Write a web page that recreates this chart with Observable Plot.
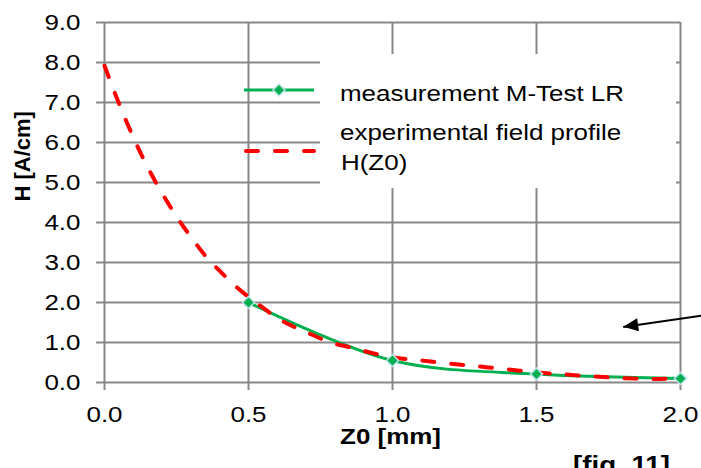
<!DOCTYPE html>
<html><head><meta charset="utf-8">
<script src="https://cdn.jsdelivr.net/npm/d3@7"></script>
<script src="https://cdn.jsdelivr.net/npm/@observablehq/plot@0.6"></script>
<style>
html,body{margin:0;padding:0;background:#fff;overflow:hidden;}
#wrap{position:relative;width:701px;height:468px;overflow:hidden;}
#wrap svg{position:absolute;left:0;top:0;}
</style></head><body><div id="wrap"></div>
<script>
// measurement M-Test LR
const measZ = [0.5, 1.0, 1.5, 2.0];
const measH = [2.00, 0.55, 0.21, 0.10];
// experimental field profile H(Z0)
const profZ = [0, 0.05, 0.1, 0.15, 0.2, 0.25, 0.3, 0.35, 0.4, 0.45, 0.5, 0.55, 0.6, 0.65, 0.7, 0.75, 0.8, 0.85, 0.9, 1.0, 1.1, 1.2, 1.3, 1.4, 1.5, 1.6, 1.7, 1.8, 1.9, 2.0];
const profH = [7.92, 6.98, 6.13, 5.38, 4.73, 4.15, 3.64, 3.17, 2.79, 2.44, 2.14, 1.87, 1.61, 1.42, 1.26, 1.10, 0.97, 0.885, 0.79, 0.63, 0.55, 0.47, 0.40, 0.33, 0.25, 0.20, 0.15, 0.11, 0.09, 0.11];
// tick values
const xTicks = [0, 0.5, 1.0, 1.5, 2.0];
const yTicks = [0, 1, 2, 3, 4, 5, 6, 7, 8, 9];
// annotation arrow (tail, head) in data units
const arrowZ = [2.104, 1.801];
const arrowH = [1.70, 1.39];
// texts
const seriesNames = ["measurement M-Test LR", "experimental field profile", "H(Z0)"];
const xTitle = "Z0 [mm]";
const yTitle = "H [A/cm]";
const caption = "[fig. 11]";

const GREEN = "#00b050", RED = "#ff0000", GRID = "#888888";
const FONT = "'Liberation Sans', Arial, Helvetica, sans-serif";

const meas = measZ.map((z, i) => ({z, h: measH[i]}));
const prof = profZ.map((z, i) => ({z, h: profH[i]}));
const arrow = [{x1: arrowZ[0], y1: arrowH[0], x2: arrowZ[1], y2: arrowH[1]}];

const diamondSym = {draw(ctx, size) { const r = Math.sqrt(size / 2); ctx.moveTo(0, -r); ctx.lineTo(r, 0); ctx.lineTo(0, r); ctx.lineTo(-r, 0); ctx.closePath(); }};
const headSym = {draw(ctx, size) { const s = Math.sqrt(size); ctx.moveTo(0, -1.4 * s); ctx.lineTo(0.62 * s, 0); ctx.lineTo(-0.62 * s, 0); ctx.closePath(); }};

const chart = Plot.plot({
  width: 701, height: 468,
  marginLeft: 104, marginRight: 21, marginTop: 22, marginBottom: 86,
  x: {domain: [0, 2]},
  y: {domain: [0, 9]},
  style: {fontFamily: FONT, fontSize: "22px", color: "#000", background: "transparent", overflow: "hidden"},
  marks: [
    Plot.gridY(yTicks, {stroke: GRID, strokeOpacity: 1, strokeWidth: 2}),
    Plot.gridX(xTicks, {stroke: GRID, strokeOpacity: 1, strokeWidth: 2}),
    Plot.axisY(yTicks, {tickSize: 8, tickPadding: 16, stroke: GRID, strokeWidth: 2, fill: "#000", fontSize: 22, tickFormat: d => d.toFixed(1), label: null}),
    Plot.axisX(xTicks, {tickSize: 8, tickPadding: 16, stroke: GRID, strokeWidth: 2, fill: "#000", fontSize: 22, tickFormat: d => d.toFixed(1), label: null}),
    Plot.line(meas, {x: "z", y: "h", stroke: GREEN, strokeWidth: 3, curve: "catmull-rom"}),
    Plot.line(prof, {x: "z", y: "h", stroke: RED, strokeWidth: 4, strokeDasharray: "12,17", strokeLinecap: "round", curve: "monotone-x"}),
    Plot.dot(meas, {x: "z", y: "h", symbol: diamondSym, r: 4.8, fill: GREEN, stroke: "#bfe3ea", strokeWidth: 1.5}),
    Plot.link(arrow, {x1: "x1", y1: "y1", x2: "x2", y2: "y2", stroke: "#000", strokeWidth: 2}),
    Plot.dot(arrow, {x: "x2", y: "y2", symbol: headSym, r: 6, fill: "#000", stroke: "none", rotate: 262, dx: 14.85, dy: -2.1}),
    Plot.text([xTitle], {frameAnchor: "bottom", text: d => d, dx: -2, dy: 61.5, fontWeight: "bold", fontSize: 22, fill: "#000"}),
    Plot.text([yTitle], {frameAnchor: "left", text: d => d, rotate: -90, dx: -82, dy: -1, fontWeight: "bold", fontSize: 22, fill: "#000"})
  ]
});

const wrap = document.getElementById("wrap");
wrap.appendChild(chart);

// legend + caption overlay
const ov = d3.create("svg").attr("width", 701).attr("height", 468)
  .style("font-family", FONT).style("font-size", "22px");
ov.append("rect").attr("x", 320).attr("y", 54).attr("width", 356).attr("height", 134).attr("fill", "#fff");
ov.append("line").attr("x1", 244).attr("x2", 314).attr("y1", 90).attr("y2", 90)
  .attr("stroke", GREEN).attr("stroke-width", 3);
ov.append("path").attr("d", "M279,84L285,90L279,96L273,90Z").attr("fill", GREEN).attr("stroke", "#bfe3ea").attr("stroke-width", 1.5);
ov.append("line").attr("x1", 246).attr("x2", 314).attr("y1", 151).attr("y2", 151)
  .attr("stroke", RED).attr("stroke-width", 4).attr("stroke-dasharray", "12,17").attr("stroke-linecap", "round");
ov.append("text").attr("x", 340).attr("y", 101.5).text(seriesNames[0]);
ov.append("text").attr("x", 340).attr("y", 140).text(seriesNames[1]);
ov.append("text").attr("x", 341).attr("y", 170).text(seriesNames[2]);
ov.append("text").attr("x", 573).attr("y", 473.5).attr("font-weight", "bold").attr("font-size", "23.5px").text(caption);
wrap.appendChild(ov.node());

// horizontal stretch of the glyphs as in the reference, scaled about each text's anchor point
function stretch(svg, k) {
  svg.querySelectorAll("text").forEach(t => {
    const tr = t.getAttribute("transform") || "";
    if (tr.includes("rotate")) return;
    const b = t.getBBox();
    if (!(b.width > 0)) return;
    const anchor = getComputedStyle(t).textAnchor;
    const ax = anchor === "end" ? b.x + b.width : anchor === "middle" ? b.x + b.width / 2 : b.x;
    t.setAttribute("transform", `${tr} translate(${ax.toFixed(2)},0) scale(${k},1) translate(${(-ax).toFixed(2)},0)`.trim());
  });
}
stretch(chart, 1.18);
stretch(ov.node(), 1.18);
</script></body></html>
